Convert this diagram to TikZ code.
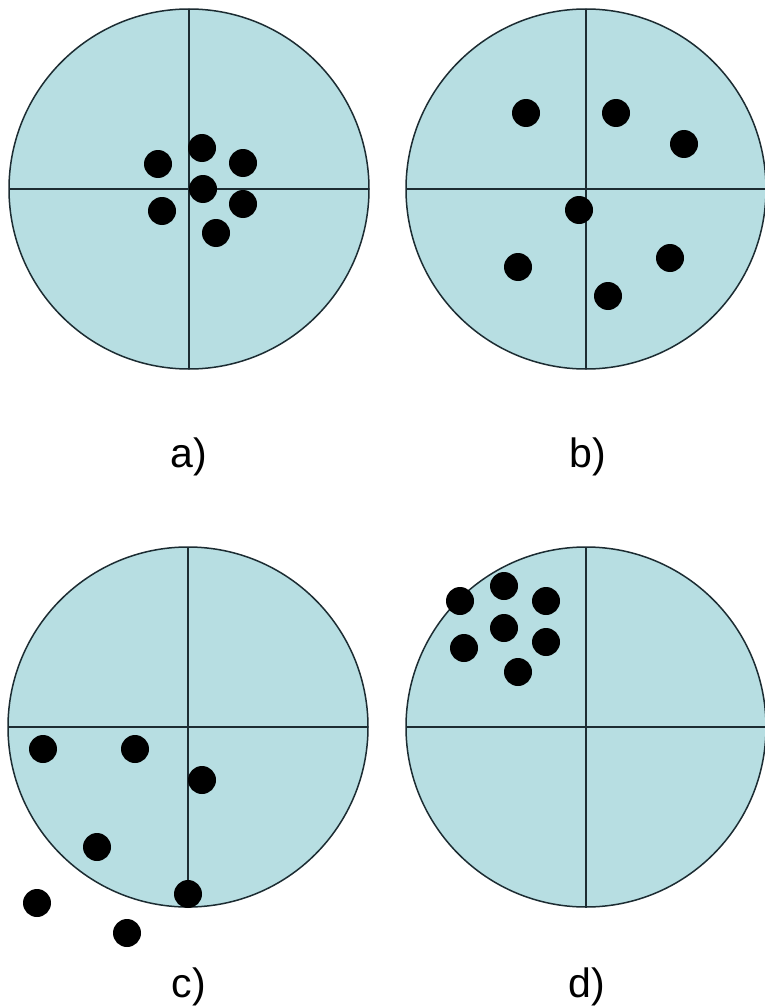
\documentclass[tikz,border=0pt]{standalone}
\usepackage{fontspec}
\setmainfont{Liberation Sans}
\usetikzlibrary{calc}
\definecolor{diskfill}{RGB}{183,222,226}
\definecolor{diskline}{RGB}{28,44,50}
\begin{document}
\begin{tikzpicture}[x=1pt,y=-1pt,
  disk/.style={fill=diskfill,draw=diskline,line width=1.5pt},
  axis/.style={draw=diskline,line width=1.8pt},
  shot/.style={fill=black},
  lab/.style={font=\fontsize{41}{48}\selectfont,anchor=base,inner sep=0pt}]
\useasboundingbox (0,0) rectangle (765,1006);
\fill[white] (0,0) rectangle (765,1006);
% centres
\coordinate (ca) at (189,189);
\coordinate (cb) at (586,189);
\coordinate (cc) at (188,727);
\coordinate (cd) at (586,727);
\foreach \c in {ca,cb,cc,cd}{
  \path[disk] (\c) circle[radius=180];
  \draw[axis] ($(\c)+(-180,0)$) -- ($(\c)+(180,0)$);
  \draw[axis] ($(\c)+(0,-180)$) -- ($(\c)+(0,180)$);
}
% a) dots
\foreach \p in {(202,148),(158,164),(243,163),(203,189),(162,211),(243,204),(216,233)}
  \fill[shot] \p circle[radius=14];
% b) dots
\foreach \p in {(526,113),(616,113),(684,144),(579,210),(518,267),(670,258),(608,296)}
  \fill[shot] \p circle[radius=14];
% c) dots
\foreach \p in {(43,749),(135,749),(202,780),(97,847),(188,894),(37,903),(127,933)}
  \fill[shot] \p circle[radius=14];
% d) dots
\foreach \p in {(460,601),(504,586),(546,601),(504,628),(546,642),(464,648),(518,672)}
  \fill[shot] \p circle[radius=14];
% labels
\node[lab] (la) at (189,467) {a)};
\node[lab] (lb) at (588,467) {b)};
\node[lab] (lc) at (189,997) {c)};
\node[lab] (ld) at (587,997) {d)};
\end{tikzpicture}
\end{document}
